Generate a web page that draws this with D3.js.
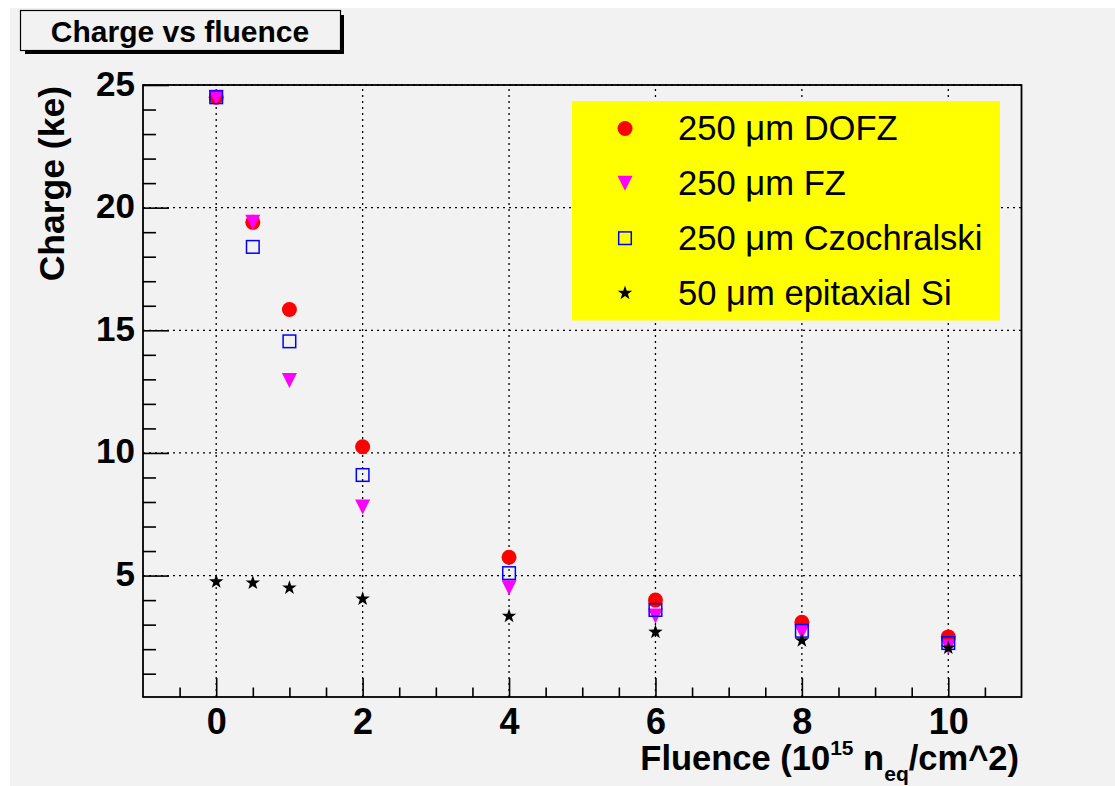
<!DOCTYPE html>
<html>
<head>
<meta charset="utf-8">
<script src="https://cdn.jsdelivr.net/npm/d3@7"></script>
<style>
  html, body { margin: 0; padding: 0; background: #fff; }
  svg { display: block; }
</style>
</head>
<body>
<div id="chart"></div>
<script>
// Charge vs fluence — ROOT-style scatter (canvas grey, dotted grid, yellow legend)
const fluence = [0, 0.5, 1, 2, 4, 6, 8, 10];
const dofz    = [24.5, 19.4, 15.85, 10.25, 5.75, 4.0, 3.1, 2.5];
const fz      = [24.5, 19.4, 12.95, 7.8, 4.5, 3.35, 2.7, 2.1];
const czochr  = [24.5, 18.4, 14.55, 9.1, 5.1, 3.6, 2.75, 2.25];
const epi     = [4.75, 4.7, 4.5, 4.05, 3.35, 2.7, 2.35, 2.05];
const seriesNames = ["250 \u03bcm DOFZ", "250 \u03bcm FZ", "250 \u03bcm Czochralski", "50 \u03bcm epitaxial Si"];
const xTicks = [0, 2, 4, 6, 8, 10];
const yTicks = [5, 10, 15, 20, 25];
const xMinor = [-0.5, 0.5, 1, 1.5, 2.5, 3, 3.5, 4.5, 5, 5.5, 6.5, 7, 7.5, 8.5, 9, 9.5, 10.5];
const yMinor = [1, 2, 3, 4, 6, 7, 8, 9, 11, 12, 13, 14, 16, 17, 18, 19, 21, 22, 23, 24];

(() => {
  const W = 1115, H = 786;
  const FL = 143, FR = 1021.5, FT = 85, FB = 697;   // frame box
  const FONT = "'Liberation Sans', Arial, Helvetica, sans-serif";

  const x = d3.scaleLinear().domain([-1, 11]).range([FL, FR]);
  const y = d3.scaleLinear().domain([0.05, 25]).range([FB, FT]);

  const svg = d3.select("#chart").append("svg")
    .attr("width", W).attr("height", H)
    .attr("viewBox", `0 0 ${W} ${H}`);

  // canvas
  svg.append("rect").attr("x", 10).attr("y", 8).attr("width", W - 10).attr("height", H - 8)
    .attr("fill", "#f2f2f2");

  // ── grid (dotted) ──
  const grid = svg.append("g").attr("stroke", "#000").attr("stroke-width", 1.3)
    .attr("stroke-dasharray", "2 4");
  xTicks.forEach(v => grid.append("line")
    .attr("x1", x(v)).attr("x2", x(v)).attr("y1", FB).attr("y2", FT));
  yTicks.forEach(v => grid.append("line")
    .attr("x1", FL).attr("x2", FR).attr("y1", y(v)).attr("y2", y(v)));

  // ── axes: ticks pointing inward ──
  const yAx = svg.append("g").attr("transform", `translate(${FL},0)`)
    .call(d3.axisLeft(y).tickValues(yTicks).tickSizeInner(-26).tickSizeOuter(0).tickPadding(8));
  svg.append("g").attr("transform", `translate(${FL},0)`)
    .call(d3.axisLeft(y).tickValues(yMinor).tickSizeInner(-13).tickSizeOuter(0).tickFormat(""));
  const xAx = svg.append("g").attr("transform", `translate(0,${FB})`)
    .call(d3.axisBottom(x).tickValues(xTicks).tickSizeInner(-19).tickSizeOuter(0).tickPadding(0));
  svg.append("g").attr("transform", `translate(0,${FB})`)
    .call(d3.axisBottom(x).tickValues(xMinor).tickSizeInner(-9.5).tickSizeOuter(0).tickFormat(""));
  svg.selectAll(".domain").remove();
  svg.selectAll(".tick line").attr("stroke", "#000").attr("stroke-width", 1.6);

  yAx.selectAll("text").attr("dy", 10)
    .attr("style", `font:bold 35px ${FONT};fill:#000`);
  xAx.selectAll("text").attr("y", 37).attr("dy", 0)
    .attr("style", `font:bold 36px ${FONT};fill:#000`);

  // frame
  svg.append("rect").attr("x", FL).attr("y", FT).attr("width", FR - FL).attr("height", FB - FT)
    .attr("fill", "none").attr("stroke", "#000").attr("stroke-width", 1.8);

  // ── markers ──
  const R = 7.5;
  const sym = {
    circle: (g, c) => g.append("circle").attr("r", R).attr("fill", c),
    triDown: (g, c) => g.append("path").attr("d", `M${-R},${-R}L${R},${-R}L0,${R}Z`).attr("fill", c),
    square: (g, c) => g.append("rect").attr("x", -6.3).attr("y", -6.3).attr("width", 12.6).attr("height", 12.6)
      .attr("fill", "none").attr("stroke", c).attr("stroke-width", 1.5),
    star: (g, c) => {
      const p = d3.path();
      for (let k = 0; k < 10; k++) {
        const r = k % 2 ? 3.0 : 7.6, a = -Math.PI / 2 + k * Math.PI / 5;
        k ? p.lineTo(r * Math.cos(a), r * Math.sin(a)) : p.moveTo(r * Math.cos(a), r * Math.sin(a));
      }
      p.closePath();
      g.append("path").attr("d", p.toString()).attr("fill", c);
    },
  };
  const series = [
    { name: seriesNames[0], vals: dofz,   shape: "circle",  color: "#ff0000" },
    { name: seriesNames[1], vals: fz,     shape: "triDown", color: "#ff00ff" },
    { name: seriesNames[2], vals: czochr, shape: "square",  color: "#0000ff" },
    { name: seriesNames[3], vals: epi,    shape: "star",    color: "#000000" },
  ];
  series.forEach(s => {
    s.vals.forEach((v, i) => {
      const g = svg.append("g").attr("transform", `translate(${x(fluence[i])},${y(v)})`);
      sym[s.shape](g, s.color);
    });
  });

  // ── legend ──
  const LX = 572, LY = 101, LW = 428, LH = 219.5;
  svg.append("rect").attr("x", LX).attr("y", LY).attr("width", LW).attr("height", LH).attr("fill", "#ffff00");
  const rowH = LH / series.length;
  series.forEach((s, i) => {
    const cy = LY + rowH * (i + 0.5);
    const g = svg.append("g").attr("transform", `translate(625,${cy})`);
    sym[s.shape](g, s.color);
    svg.append("text").attr("x", 678).attr("y", cy + 12)
      .attr("style", `font:34.6px ${FONT};fill:#000`)
      .text(s.name);
  });

  // ── axis titles ──
  svg.append("text")
    .attr("transform", "translate(63.5,86) rotate(-90)")
    .attr("text-anchor", "end")
    .attr("style", `font:bold 35.5px ${FONT};fill:#000`)
    .text("Charge (ke)");

  const xt = svg.append("text").attr("x", 1019).attr("y", 770).attr("text-anchor", "end")
    .attr("style", `font:bold 34.5px ${FONT};fill:#000`);
  xt.append("tspan").text("Fluence (10");
  xt.append("tspan").attr("dy", -15).attr("font-size", 21).text("15");
  xt.append("tspan").attr("dy", 15).text(" n");
  xt.append("tspan").attr("dy", 11).attr("font-size", 21).text("eq");
  xt.append("tspan").attr("dy", -11).text("/cm^2)");

  // ── title box with shadow ──
  svg.append("rect").attr("x", 25).attr("y", 15).attr("width", 319).attr("height", 39).attr("fill", "#000");
  svg.append("rect").attr("x", 20.5).attr("y", 10.5).attr("width", 320).attr("height", 40)
    .attr("fill", "#f2f2f2").attr("stroke", "#000").attr("stroke-width", 1.2);
  svg.append("text").attr("x", 180).attr("y", 42).attr("text-anchor", "middle")
    .attr("style", `font:bold 30px ${FONT};fill:#000`)
    .text("Charge vs fluence");
})();
</script>
</body>
</html>
